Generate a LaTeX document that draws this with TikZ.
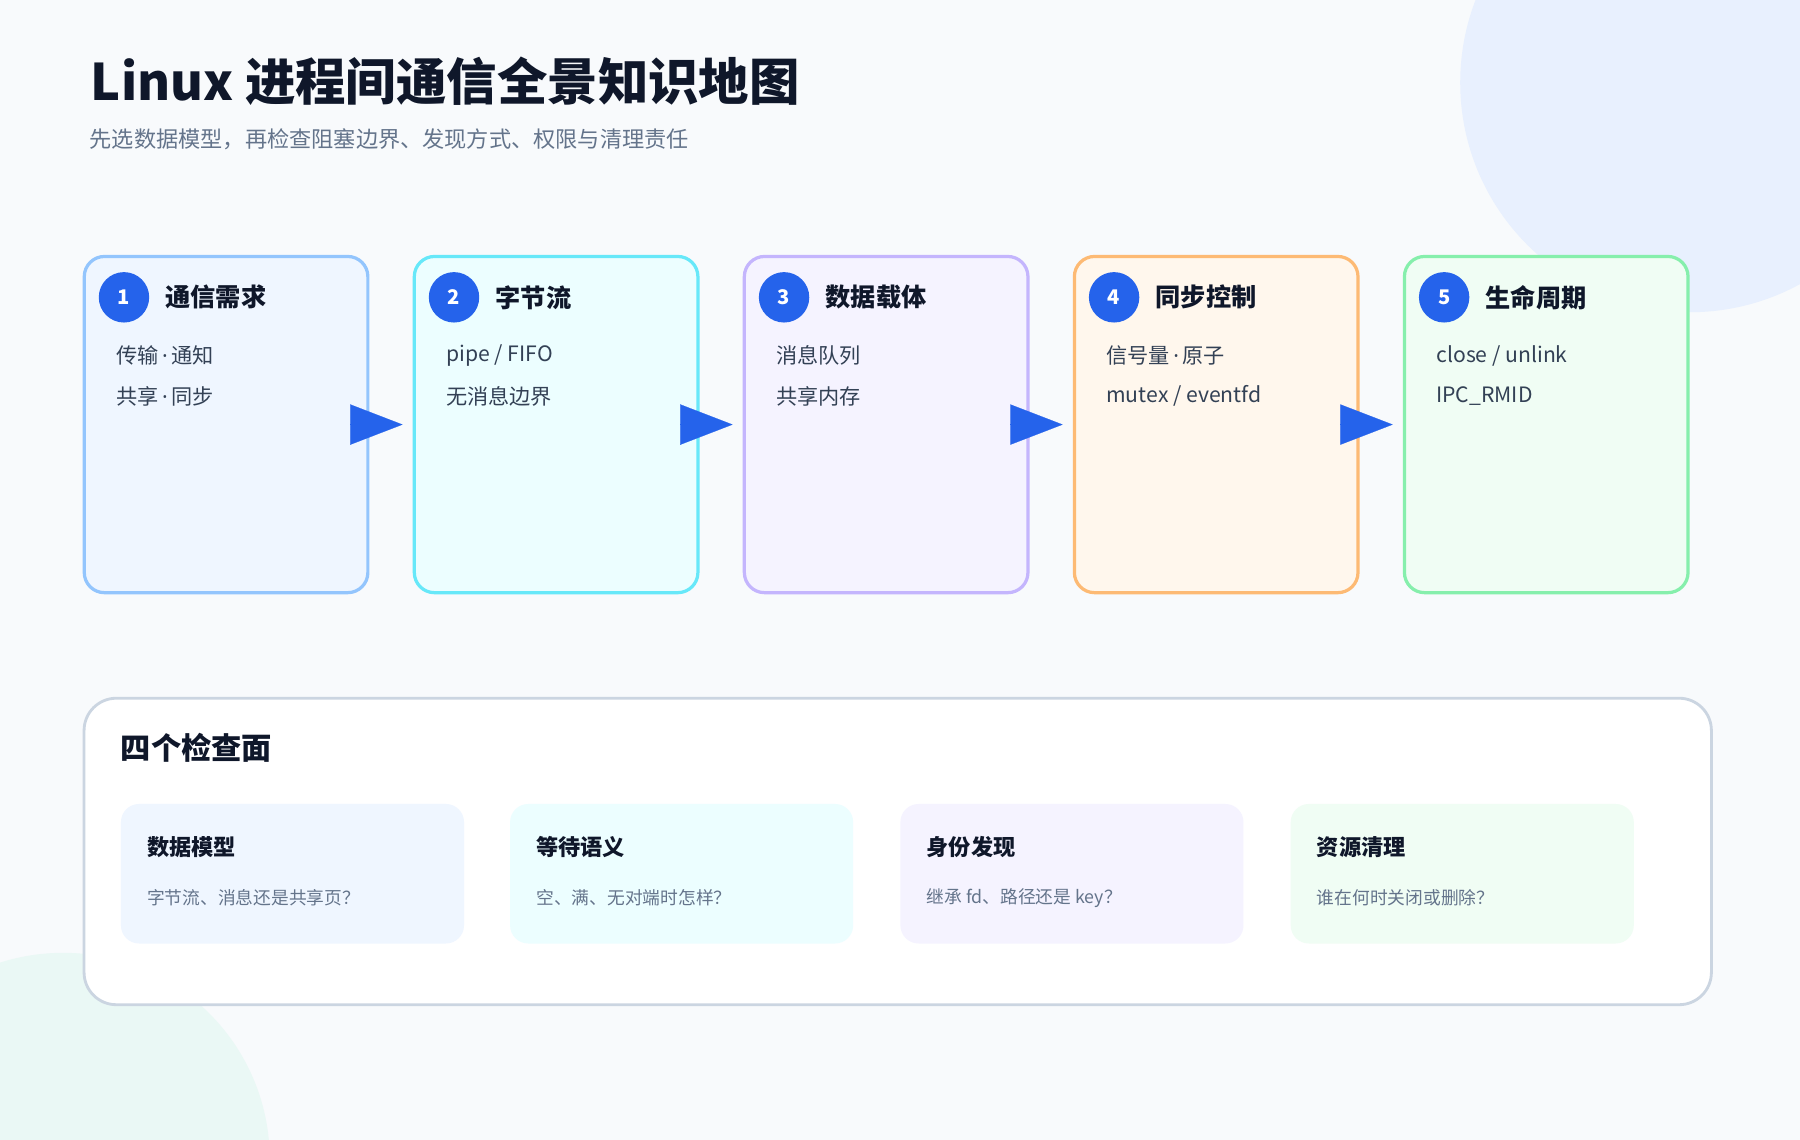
\documentclass[tikz,border=0pt]{standalone}
\usepackage{fontspec}
\setmainfont{Noto Sans CJK SC}
\newfontfamily\lat{Noto Sans}
\usetikzlibrary{arrows.meta,calc}
\definecolor{ink}{HTML}{0F172A}
\definecolor{body}{HTML}{334155}
\definecolor{muted}{HTML}{64748B}
\definecolor{blue}{HTML}{2563EB}
\definecolor{bg}{HTML}{F8FAFC}
\definecolor{b1}{HTML}{93C5FD}\definecolor{f1}{HTML}{EFF6FF}
\definecolor{b2}{HTML}{67E8F9}\definecolor{f2}{HTML}{ECFEFF}
\definecolor{b3}{HTML}{C4B5FD}\definecolor{f3}{HTML}{F5F3FF}
\definecolor{b4}{HTML}{FDBA74}\definecolor{f4}{HTML}{FFF7ED}
\definecolor{b5}{HTML}{86EFAC}\definecolor{f5}{HTML}{F0FDF4}
\definecolor{pb}{HTML}{CBD5E1}
\definecolor{deco1}{HTML}{E8F0FE}
\definecolor{deco2}{HTML}{EAF8F5}
\newcommand\mdot{{\lat\,·\,}}
\begin{document}
\begin{tikzpicture}[x=0.02cm,y=-0.02cm,
 card/.style={draw=#1,line width=1.6pt,rounded corners=10pt,minimum width=248*0.567pt,minimum height=294*0.567pt,anchor=north west,inner sep=0pt},
 num/.style={circle,fill=blue,minimum size=25pt,inner sep=0pt,text=white,font=\fontsize{10}{12}\selectfont\bfseries},
 ctitle/.style={anchor=west,text=ink,font=\fontsize{12.5}{14}\selectfont\bfseries},
 cbody/.style={anchor=west,text=body,font=\fontsize{10.5}{12}\selectfont},
 flow/.style={blue,line width=0.1pt,-{Triangle[length=26pt,width=20pt]},shorten >=5pt},
 mini/.style={fill=#1,rounded corners=9pt,minimum width=300*0.567pt,minimum height=122*0.567pt,anchor=north west,inner sep=0pt},
 mtitle/.style={anchor=west,text=ink,font=\fontsize{11}{13}\selectfont\bfseries},
 mtext/.style={anchor=west,text=muted,font=\fontsize{8.8}{10}\selectfont}]
\useasboundingbox (0,0) rectangle (1568,993);
\fill[bg] (0,0) rectangle (1568,993);
\begin{scope}
\clip (0,0) rectangle (1568,993);
\fill[deco1] (1472,72) circle (200);
\fill[deco2] (55,1010) circle (180);
\end{scope}
\node[anchor=west,text=ink,font=\fontsize{25}{28}\selectfont\bfseries] (title) at (73,71) {Linux 进程间通信全景知识地图};
\node[anchor=west,text=muted,font=\fontsize{11}{13}\selectfont] (sub) at (72,121) {先选数据模型，再检查阻塞边界、发现方式、权限与清理责任};
% cards
\node[card=b1,fill=f1] (c1) at (72,222) {};
\node[card=b2,fill=f2] (c2) at (359.5,222) {};
\node[card=b3,fill=f3] (c3) at (647,222) {};
\node[card=b4,fill=f4] (c4) at (934.5,222) {};
\node[card=b5,fill=f5] (c5) at (1222,222) {};
\foreach \i/\t/\a/\b [count=\k] in {c1/通信需求/{传输\mdot 通知}/{共享\mdot 同步}, c2/字节流/{pipe / FIFO}/无消息边界, c3/数据载体/消息队列/共享内存, c4/同步控制/{信号量\mdot 原子}/{mutex / eventfd}, c5/生命周期/{close / unlink}/IPC\_RMID}{
 \node[num] (n\k) at ($(\i.north west)+(36,37)$) {\k};
 \node[ctitle] (t\k) at ($(\i.north west)+(66,37)$) {\t};
 \node[cbody] (a\k) at ($(\i.north west)+(23,88)$) {\a};
 \node[cbody] (b\k) at ($(\i.north west)+(23,123)$) {\b};
}
\foreach \p/\q in {c1/c2,c2/c3,c3/c4,c4/c5}{
 \draw[flow] ($(\p.east)+(-16,0)$) -- (\q.west);
}
% bottom panel
\node[draw=pb,fill=white,line width=1.4pt,rounded corners=16pt,minimum width=1423*0.567pt,minimum height=268*0.567pt,anchor=north west,inner sep=0pt] (panel) at (72,607) {};
\node[anchor=west,text=ink,font=\fontsize{15}{17}\selectfont\bfseries] (ph) at (99,651) {四个检查面};
\node[mini=f1] (m1) at (105,700) {};
\node[mini=f2] (m2) at (444,700) {};
\node[mini=f3] (m3) at (784,700) {};
\node[mini=f5] (m4) at (1124,700) {};
\foreach \m/\t/\s in {m1/数据模型/字节流、消息还是共享页？, m2/等待语义/空、满、无对端时怎样？, m3/身份发现/继承 fd、路径还是 key？, m4/资源清理/谁在何时关闭或删除？}{
 \node[mtitle] (\m t) at ($(\m.north west)+(17,38)$) {\t};
 \node[mtext] (\m s) at ($(\m.north west)+(17,82)$) {\s};
}
\end{tikzpicture}
\end{document}
